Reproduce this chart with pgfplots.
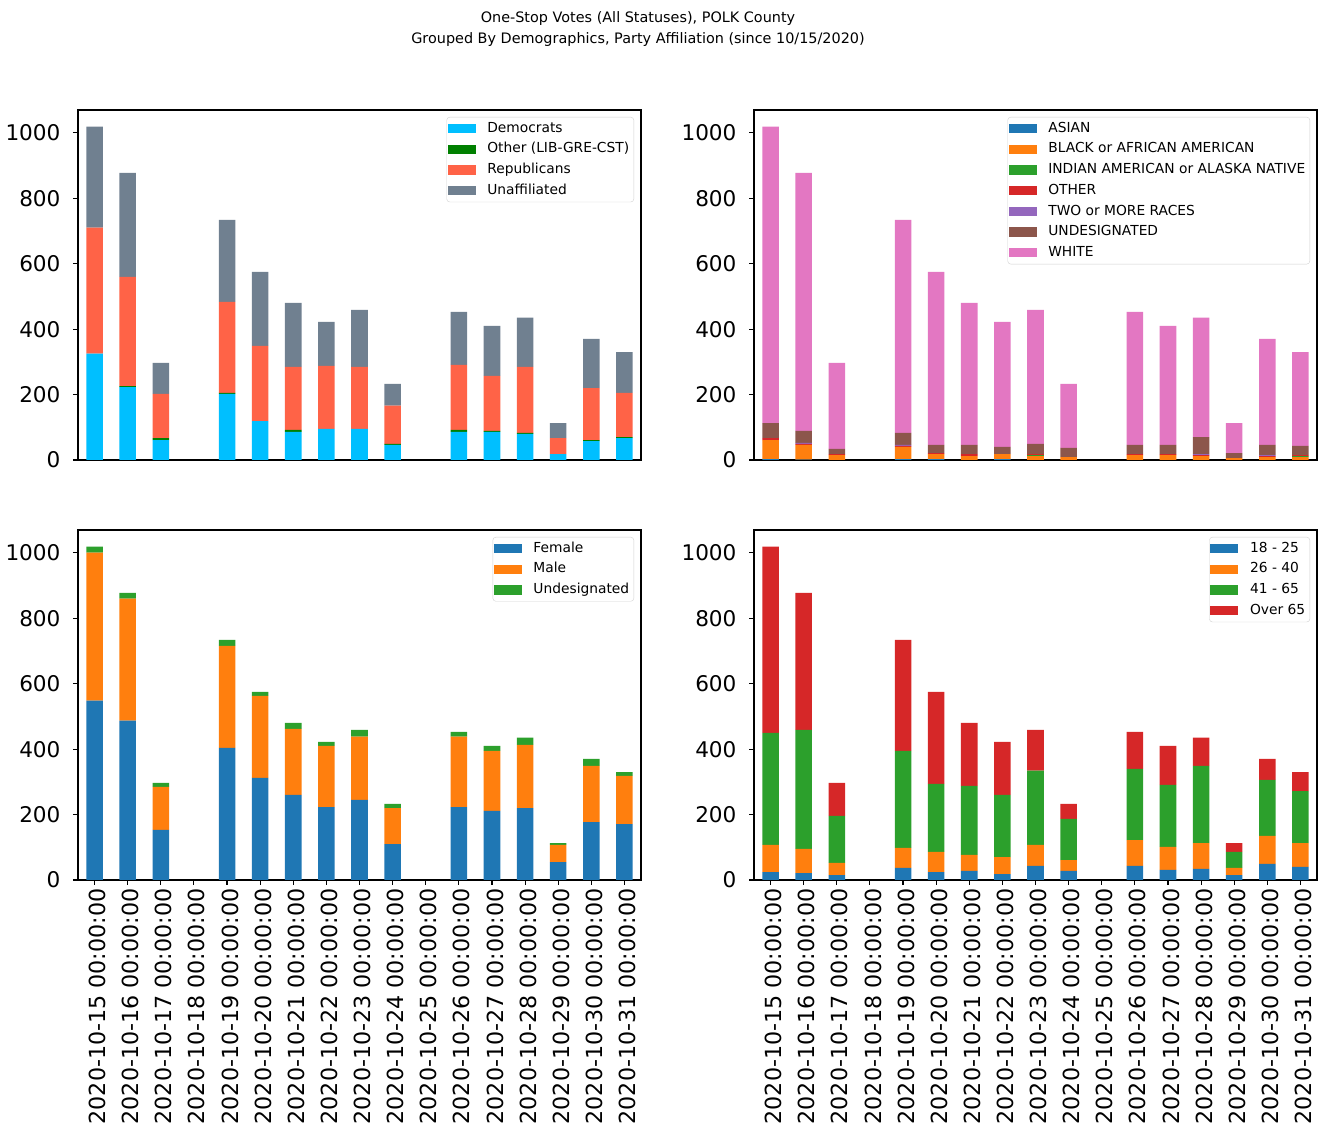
\documentclass[border=0pt]{standalone}
\usepackage{fontspec}
\setmainfont{DejaVu Sans}
\usepackage{pgfplots}
\usepackage{pgfplotstable}
\pgfplotsset{compat=1.18}

\definecolor{cdem}{RGB}{0,191,255}
\definecolor{coth}{RGB}{0,128,0}
\definecolor{crep}{RGB}{255,99,71}
\definecolor{cuna}{RGB}{112,128,144}
\definecolor{tab0}{HTML}{1F77B4}
\definecolor{tab1}{HTML}{FF7F0E}
\definecolor{tab2}{HTML}{2CA02C}
\definecolor{tab3}{HTML}{D62728}
\definecolor{tab4}{HTML}{9467BD}
\definecolor{tab5}{HTML}{8C564B}
\definecolor{tab6}{HTML}{E377C2}

% party affiliation
\pgfplotstableread{
x dem oth rep una
0 325 0 385 309
1 223 3 334 318
2 61 6 135 95
3 0 0 0 0
4 202 3 278 251
5 119 0 230 226
6 86 6 193 195
7 95 0 193 134
8 95 0 190 174
9 46 3 117 67
10 0 0 0 0
11 86 6 199 162
12 86 3 168 153
13 80 3 202 150
14 18 0 49 46
15 58 3 159 150
16 67 3 135 125
}\party

% race
\pgfplotstableread{
x asian black indian other two undes white
0 3 58 0 6 0 46 906
1 1 45 0 3 3 37 789
2 0 15 0 3 0 16 263
3 0 0 0 0 0 0 0
4 3 37 0 3 3 37 651
5 3 15 0 3 0 25 529
6 0 12 0 6 0 28 434
7 3 15 0 0 0 22 382
8 0 12 3 3 0 31 410
9 0 9 0 0 0 28 196
10 0 0 0 0 0 0 0
11 0 15 0 3 0 28 407
12 0 15 0 3 0 28 364
13 0 12 0 3 3 52 365
14 0 6 0 0 0 15 92
15 0 9 0 3 3 31 324
16 0 9 3 3 0 28 287
}\race

% gender
\pgfplotstableread{
x fem male und
0 548 453 18
1 487 373 18
2 153 132 12
3 0 0 0
4 404 312 18
5 312 251 12
6 260 202 18
7 223 187 12
8 245 193 21
9 110 110 13
10 0 0 0
11 223 215 15
12 211 184 15
13 220 193 22
14 55 52 6
15 177 172 21
16 171 147 12
}\gender

% age
\pgfplotstableread{
x a b c d
0 24 83 343 569
1 21 74 364 419
2 15 37 144 101
3 0 0 0 0
4 37 61 297 339
5 24 62 208 281
6 28 49 211 192
7 18 52 190 162
8 43 64 227 125
9 28 33 126 46
10 0 0 0 0
11 43 79 218 113
12 31 70 190 119
13 34 79 236 86
14 15 22 49 27
15 49 86 171 64
16 40 73 159 58
}\age

\pgfplotsset{
  panel/.style={
    ybar stacked, bar width=0.5,
    scale only axis, width=563bp, height=350bp, anchor=south west,
    xmin=-0.5, xmax=16.5, ymin=0, ymax=1070,
    ytick={0,200,...,1000},
    axis line style={line width=1.1bp},
    every tick/.style={black, line width=1.1bp},
    major tick length=5bp, tick align=outside, tick pos=left,
    /pgf/number format/assume math mode=true,
    /pgf/number format/1000 sep={},
    tick label style={font=\fontsize{21.6bp}{25bp}\selectfont},
    yticklabel style={xshift=-9bp},
    legend cell align=left,
    legend image code/.code={\fill[##1, sharp corners] (0bp,-4.7bp) rectangle (28bp,4.7bp);},
    legend style={at={(1,1)}, anchor=north east, xshift=-7bp, yshift=-7bp,
      draw=black!18, rounded corners=3bp, inner sep=1bp, row sep=0pt,
      column sep=8bp,
      font=\fontsize{13.8bp}{16bp}\selectfont,
      nodes={inner sep=3.6bp, text height=10.5bp, text depth=3bp}},
  },
  toppanel/.style={panel, xtick=\empty},
  botpanel/.style={panel, xtick={0,...,16},
    xticklabels={2020-10-15 00:00:00,2020-10-16 00:00:00,2020-10-17 00:00:00,
      2020-10-18 00:00:00,2020-10-19 00:00:00,2020-10-20 00:00:00,
      2020-10-21 00:00:00,2020-10-22 00:00:00,2020-10-23 00:00:00,
      2020-10-24 00:00:00,2020-10-25 00:00:00,2020-10-26 00:00:00,
      2020-10-27 00:00:00,2020-10-28 00:00:00,2020-10-29 00:00:00,
      2020-10-30 00:00:00,2020-10-31 00:00:00},
    xticklabel style={rotate=90, anchor=east, yshift=-3bp,
      font=\fontsize{22.2bp}{25bp}\selectfont}},
}

\begin{document}
\begin{tikzpicture}
\path[use as bounding box] (0,0) rectangle (1326bp,1137bp);
\node[align=center, font=\fontsize{14.4bp}{20.5bp}\selectfont] at (638bp,1108bp)
  {One-Stop Votes (All Statuses), POLK County\\Grouped By Demographics, Party Affiliation (since 10/15/2020)};

\begin{axis}[toppanel, at={(78bp,677bp)}]
\addplot[fill=cdem, draw=none] table[x=x, y=dem] {\party};
\addplot[fill=coth, draw=none] table[x=x, y=oth] {\party};
\addplot[fill=crep, draw=none] table[x=x, y=rep] {\party};
\addplot[fill=cuna, draw=none] table[x=x, y=una] {\party};
\legend{Democrats, Other (LIB-GRE-CST), Republicans, Unaffiliated}
\end{axis}

\begin{axis}[toppanel, at={(754bp,677bp)}]
\addplot[fill=tab0, draw=none] table[x=x, y=asian] {\race};
\addplot[fill=tab1, draw=none] table[x=x, y=black] {\race};
\addplot[fill=tab2, draw=none] table[x=x, y=indian] {\race};
\addplot[fill=tab3, draw=none] table[x=x, y=other] {\race};
\addplot[fill=tab4, draw=none] table[x=x, y=two] {\race};
\addplot[fill=tab5, draw=none] table[x=x, y=undes] {\race};
\addplot[fill=tab6, draw=none] table[x=x, y=white] {\race};
\legend{ASIAN, BLACK or AFRICAN AMERICAN, INDIAN AMERICAN or ALASKA NATIVE, OTHER, TWO or MORE RACES, UNDESIGNATED, WHITE}
\end{axis}

\begin{axis}[botpanel, at={(78bp,257bp)}]
\addplot[fill=tab0, draw=none] table[x=x, y=fem] {\gender};
\addplot[fill=tab1, draw=none] table[x=x, y=male] {\gender};
\addplot[fill=tab2, draw=none] table[x=x, y=und] {\gender};
\legend{Female, Male, Undesignated}
\end{axis}

\begin{axis}[botpanel, at={(754bp,257bp)}]
\addplot[fill=tab0, draw=none] table[x=x, y=a] {\age};
\addplot[fill=tab1, draw=none] table[x=x, y=b] {\age};
\addplot[fill=tab2, draw=none] table[x=x, y=c] {\age};
\addplot[fill=tab3, draw=none] table[x=x, y=d] {\age};
\legend{18 - 25, 26 - 40, 41 - 65, Over 65}
\end{axis}
\end{tikzpicture}
\end{document}
